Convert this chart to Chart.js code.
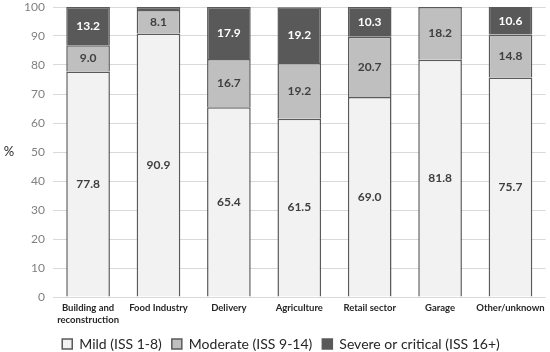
<!DOCTYPE html>
<html>
<head>
<meta charset="utf-8">
<script src="https://cdn.jsdelivr.net/npm/chart.js@4"></script>
<style>
  body { margin: 0; background: #fff; }
  #wrap { width: 550px; height: 352px; overflow: hidden; }
</style>
</head>
<body>
<div id="wrap"><canvas id="chart" width="550" height="352"></canvas></div>
<script>
const categories = [
  ["Building and", "reconstruction"], "Food Industry", "Delivery",
  "Agriculture", "Retail sector", "Garage", "Other/unknown"
];
const mild = [77.8, 90.9, 65.4, 61.5, 69.0, 81.8, 75.7];
const moderate = [9.0, 8.1, 16.7, 19.2, 20.7, 18.2, 14.8];
const severe = [13.2, 1.0, 17.9, 19.2, 10.3, 0, 10.6];
const yTicks = [0, 10, 20, 30, 40, 50, 60, 70, 80, 90, 100];

const FONT = "Lato, 'Open Sans', sans-serif";

// draws the value in the middle of each segment, and the "%" axis title
const segmentLabels = {
  id: "segmentLabels",
  afterDatasetsDraw(chart) {
    const ctx = chart.ctx;
    ctx.save();
    ctx.textAlign = "center";
    ctx.textBaseline = "middle";
    ctx.font = "bold 12px " + FONT;
    chart.data.datasets.forEach((ds, i) => {
      const meta = chart.getDatasetMeta(i);
      meta.data.forEach((bar, j) => {
        const v = ds.data[j];
        if (v < 5) return;
        const top = Math.max(bar.y, chart.chartArea.top);
        ctx.fillStyle = i === 2 ? "#ffffff" : "#3f3f3f";
        ctx.fillText(v.toFixed(1), bar.x, (top + bar.base) / 2);
      });
    });
    ctx.fillStyle = "#262626";
    ctx.font = "13px " + FONT;
    ctx.fillText("%", 9, (chart.chartArea.top + chart.chartArea.bottom) / 2);
    ctx.restore();
  }
};

new Chart(document.getElementById("chart"), {
  type: "bar",
  data: {
    labels: categories,
    datasets: [
      { label: "Mild (ISS 1-8)", data: mild, backgroundColor: "#f2f2f2" },
      { label: "Moderate (ISS 9-14)", data: moderate, backgroundColor: "#bfbfbf" },
      { label: "Severe or critical (ISS 16+)", data: severe, backgroundColor: "#595959" }
    ].map(d => Object.assign(d, {
      borderColor: "#5a5a5a",
      borderWidth: 1.5,
      barPercentage: 0.62,
      categoryPercentage: 1.0
    }))
  },
  options: {
    responsive: false,
    animation: false,
    layout: { padding: { top: 0, right: 4, left: 16, bottom: -9 } },
    plugins: {
      tooltip: { enabled: false },
      legend: {
        position: "bottom",
        labels: {
          color: "#262626",
          font: { size: 14, family: FONT },
          boxWidth: 10,
          boxHeight: 10,
          padding: 10
        }
      }
    },
    scales: {
      x: {
        stacked: true,
        grid: { display: false, drawTicks: false },
        border: { display: false },
        afterFit: s => { s.height = 30; },
        ticks: {
          color: "#262626",
          maxRotation: 0,
          autoSkip: false,
          padding: 5,
          font: { size: 9.5, weight: "bold", family: FONT, lineHeight: 1.25 }
        }
      },
      y: {
        stacked: true,
        min: 0,
        max: 100,
        afterBuildTicks: axis => { axis.ticks = yTicks.map(v => ({ value: v })); },
        afterFit: s => { s.paddingTop = 7; },
        grid: { color: "#d9d9d9", drawTicks: false },
        border: { display: false },
        ticks: {
          color: "#808080",
          padding: 8,
          font: { size: 12, family: FONT }
        }
      }
    }
  },
  plugins: [segmentLabels]
});
</script>
</body>
</html>
